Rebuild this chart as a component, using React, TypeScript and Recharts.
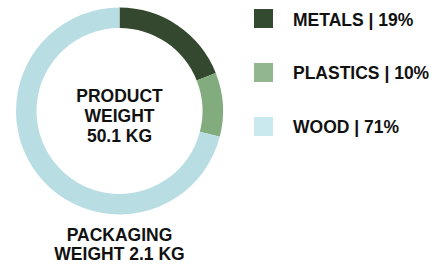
import React from 'react';
import { PieChart, Pie, Cell } from 'recharts';

const materials = ['METALS', 'PLASTICS', 'WOOD'];
const shares = [19, 10, 71];
const sliceColors = ['#33482e', '#82ab7e', '#b8dee3'];
const legendColors = ['#334a30', '#92b68e', '#c9e9ef'];
const centerLines = ['PRODUCT', 'WEIGHT', '50.1 KG'];
const bottomLines = ['PACKAGING', 'WEIGHT 2.1 KG'];

const data = materials.map((name, i) => ({ name, value: shares[i] }));

const font = '"Liberation Sans", Arial, sans-serif';

export default function App() {
  return (
    <div style={{ position: 'absolute', left: 0, top: 0, width: 446, height: 264, background: '#fff' }}>
      <PieChart width={446} height={264} margin={{ top: 0, right: 0, bottom: 0, left: 0 }}>
        <Pie
          data={data}
          dataKey="value"
          cx={119.5}
          cy={111}
          innerRadius={83}
          outerRadius={103.5}
          startAngle={90}
          endAngle={-270}
          stroke="none"
          isAnimationActive={false}
        >
          {data.map((d, i) => (
            <Cell key={d.name} fill={sliceColors[i]} />
          ))}
        </Pie>
      </PieChart>
      <svg
        width={446}
        height={264}
        style={{ position: 'absolute', left: 0, top: 0, pointerEvents: 'none' }}
      >
        <g fontFamily={font} fontWeight="bold" fontSize={17.5} fill="#111">
          {centerLines.map((t, i) => (
            <text key={t} x={119.5} y={102 + i * 20} textAnchor="middle">
              {t}
            </text>
          ))}
          {bottomLines.map((t, i) => (
            <text key={t} x={119.5} y={241 + i * 18.5} textAnchor="middle">
              {t}
            </text>
          ))}
          {data.map((d, i) => (
            <g key={d.name}>
              <rect x={254} y={9 + i * 54} width={19} height={19} fill={legendColors[i]} />
              <text x={293} y={25.5 + i * 53.5}>
                {`${d.name} | ${d.value}%`}
              </text>
            </g>
          ))}
        </g>
      </svg>
    </div>
  );
}
